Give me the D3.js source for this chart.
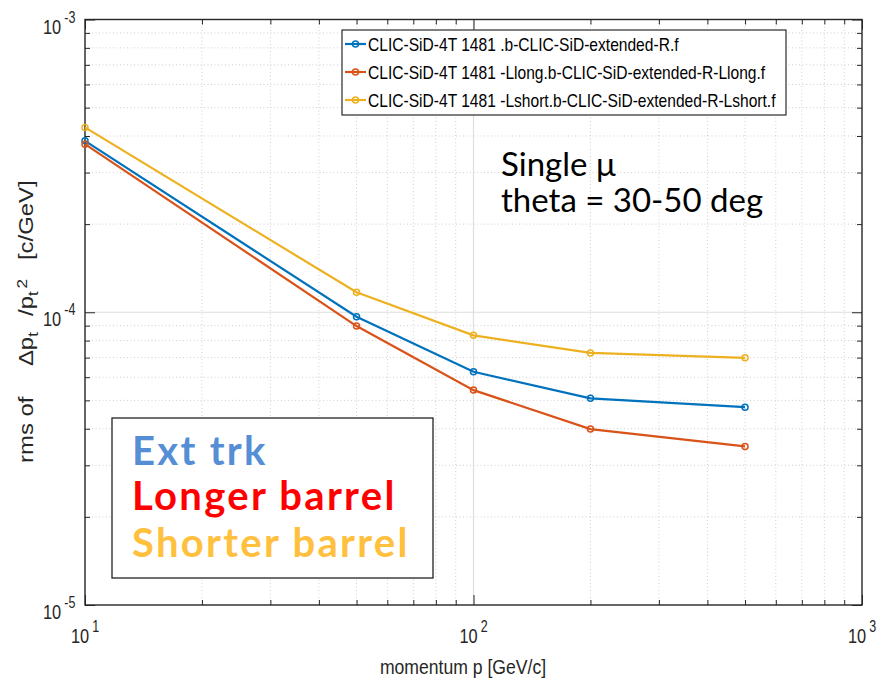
<!DOCTYPE html>
<html><head><meta charset="utf-8">
<script src="https://cdn.jsdelivr.net/npm/d3@7"></script>
<style>body{margin:0;background:#fff}svg{display:block}</style>
</head><body>
<svg id="chart" width="877" height="681"></svg>
<script>
// Momentum resolution vs. momentum for three SiD tracker variants
const momentum = [10, 50, 100, 200, 500];
const seriesNames = [
  "CLIC-SiD-4T 1481 .b-CLIC-SiD-extended-R.f",
  "CLIC-SiD-4T 1481 -Llong.b-CLIC-SiD-extended-R-Llong.f",
  "CLIC-SiD-4T 1481 -Lshort.b-CLIC-SiD-extended-R-Lshort.f"
];
const extendedR = [3.85e-4, 9.65e-5, 6.26e-5, 5.08e-5, 4.74e-5];
const longBarrel = [3.75e-4, 8.97e-5, 5.42e-5, 3.99e-5, 3.48e-5];
const shortBarrel = [4.28e-4, 1.17e-4, 8.34e-5, 7.26e-5, 6.99e-5];
const seriesColors = ["#0072BD", "#D95319", "#EDB120"];
const xDecades = [1, 2, 3];       // 10^1 .. 10^3
const yDecades = [-5, -4, -3];    // 10^-5 .. 10^-3
const noteLines = ["Single \u03bc", "theta = 30-50 deg"];
const boxLines = ["Ext trk", "Longer barrel", "Shorter barrel"];
const boxColors = ["#558ED5", "#FF0000", "#FFC03D"];

const series = [extendedR, longBarrel, shortBarrel].map((vals, i) => ({
  name: seriesNames[i], color: seriesColors[i],
  points: momentum.map((p, j) => ({p, v: vals[j]}))
}));

const svg = d3.select("#chart");
const L = 85, R = 862, T = 19.5, B = 605;
const x = d3.scaleLog().domain([10, 1000]).range([L, R]);
const y = d3.scaleLog().domain([1e-5, 1e-3]).range([B, T]);

const xMajor = xDecades.map(e => Math.pow(10, e));
const yMajor = yDecades.map(e => Math.pow(10, e));
const minorOf = (majors) => {
  const out = [];
  for (let i = 0; i < majors.length - 1; i++)
    for (let k = 2; k <= 9; k++) out.push(majors[i] * k);
  return out;
};
const xMinor = minorOf(xMajor), yMinor = minorOf(yMajor);

const font = "'Liberation Sans',Arial,Helvetica,sans-serif";
const axisColor = "#262626";

// horizontally condensed text, Helvetica-narrow look
function narrowText(parent, px, py, sx) {
  return parent.append("g").attr("transform", `translate(${px},${py}) scale(${sx},1)`)
    .append("text").attr("font-family", font).attr("fill", axisColor);
}

// grid
const grid = svg.append("g");
grid.selectAll(".gxm").data(xMinor).join("line")
  .attr("x1", d => x(d)).attr("x2", d => x(d)).attr("y1", T).attr("y2", B)
  .attr("stroke", "#cfcfcf").attr("stroke-dasharray", "1,2.5").attr("stroke-width", 1);
grid.selectAll(".gym").data(yMinor).join("line")
  .attr("y1", d => y(d)).attr("y2", d => y(d)).attr("x1", L).attr("x2", R)
  .attr("stroke", "#cfcfcf").attr("stroke-dasharray", "1,2.5").attr("stroke-width", 1);
grid.selectAll(".gxM").data(xMajor.slice(1, -1)).join("line")
  .attr("x1", d => x(d)).attr("x2", d => x(d)).attr("y1", T).attr("y2", B)
  .attr("stroke", "#dedede").attr("stroke-width", 1.2);
grid.selectAll(".gyM").data(yMajor.slice(1, -1)).join("line")
  .attr("y1", d => y(d)).attr("y2", d => y(d)).attr("x1", L).attr("x2", R)
  .attr("stroke", "#dedede").attr("stroke-width", 1.2);

// ticks on all four sides, pointing inward
function ticks(axisFn, scale, values, size, transform) {
  const g = svg.append("g").attr("transform", transform)
    .call(axisFn(scale).tickValues(values).tickSize(-size).tickFormat(""));
  g.select(".domain").remove();
  g.selectAll(".tick line").attr("stroke", axisColor).attr("stroke-width", 1);
}
ticks(d3.axisBottom, x, xMajor, 10, `translate(0,${B})`);
ticks(d3.axisBottom, x, xMinor, 5, `translate(0,${B})`);
ticks(d3.axisTop, x, xMajor, 10, `translate(0,${T})`);
ticks(d3.axisTop, x, xMinor, 5, `translate(0,${T})`);
ticks(d3.axisLeft, y, yMajor, 10, `translate(${L},0)`);
ticks(d3.axisLeft, y, yMinor, 5, `translate(${L},0)`);
ticks(d3.axisRight, y, yMajor, 10, `translate(${R},0)`);
ticks(d3.axisRight, y, yMinor, 5, `translate(${R},0)`);

svg.append("rect").attr("x", L).attr("y", T).attr("width", R - L).attr("height", B - T)
  .attr("fill", "none").attr("stroke", axisColor).attr("stroke-width", 1.4);

// tick labels 10^n
function powLabel(t, e) {
  t.attr("font-size", 21);
  t.append("tspan").text("10");
  t.append("tspan").attr("dy", -11).attr("dx", 4).attr("font-size", 16).text(e);
}
xDecades.forEach(e => powLabel(narrowText(svg, x(Math.pow(10, e)) - 14, 643, 0.78), e));
yDecades.forEach(e => powLabel(narrowText(svg, 43, y(Math.pow(10, e)) + 14, 0.78), e));

// x axis title
narrowText(svg, 463, 674, 0.88).attr("text-anchor", "middle").attr("font-size", 20)
  .text("momentum p [GeV/c]");

// y axis title, laid out along the rotated baseline (stretched along the text)
const yl = svg.append("g").attr("transform", "translate(33,463) rotate(-90) scale(1.14,1)")
  .append("text").attr("font-family", font).attr("fill", axisColor).attr("font-size", 21);
yl.append("tspan").attr("x", 0).text("rms of");
yl.append("tspan").attr("x", 85).text("\u0394p");
yl.append("tspan").attr("font-size", 15).attr("dy", 5).text("t");
yl.append("tspan").attr("x", 129).attr("dy", -5).text("/p");
yl.append("tspan").attr("font-size", 15).attr("dy", 5).text("t");
yl.append("tspan").attr("font-size", 15).attr("x", 153).attr("dy", -11).text("2");
yl.append("tspan").attr("x", 178).attr("dy", 6).text("[c/GeV]");

// data lines
const line = d3.line().x(d => x(d.p)).y(d => y(d.v));
const plot = svg.append("g");
series.forEach(s => {
  plot.append("path").attr("d", line(s.points)).attr("fill", "none")
    .attr("stroke", s.color).attr("stroke-width", 2.2);
  plot.selectAll(null).data(s.points).join("circle")
    .attr("cx", d => x(d.p)).attr("cy", d => y(d.v)).attr("r", 3)
    .attr("fill", "none").attr("stroke", s.color).attr("stroke-width", 1.5);
});

// legend
const lg = svg.append("g");
lg.append("rect").attr("x", 342).attr("y", 30).attr("width", 444).attr("height", 85)
  .attr("fill", "#fff").attr("stroke", "#000").attr("stroke-width", 1);
series.forEach((s, i) => {
  const cy = 44 + i * 28;
  lg.append("line").attr("x1", 345).attr("x2", 366).attr("y1", cy).attr("y2", cy)
    .attr("stroke", s.color).attr("stroke-width", 2.2);
  lg.append("circle").attr("cx", 355.5).attr("cy", cy).attr("r", 3)
    .attr("fill", "none").attr("stroke", s.color).attr("stroke-width", 1.5);
  narrowText(lg, 368, cy + 6.5, 0.866).attr("font-size", 18).attr("fill", "#000").text(s.name);
});

// annotation
const note = svg.append("text").attr("font-family", "Lato, 'Open Sans', sans-serif")
  .attr("font-size", 33).attr("fill", "#000");
noteLines.forEach((t, i) => {
  note.append("tspan").attr("x", 501).attr("y", 176 + i * 36).text(t);
});

// colour key box
svg.append("rect").attr("x", 112).attr("y", 418).attr("width", 321).attr("height", 160)
  .attr("fill", "#fff").attr("stroke", "#222").attr("stroke-width", 1.3);
boxLines.forEach((t, i) => {
  svg.append("text").attr("x", 132).attr("y", [465, 510, 557][i])
    .attr("font-family", "Lato, 'Open Sans', sans-serif").attr("font-weight", "bold")
    .attr("font-size", 40).attr("letter-spacing", 2.3).attr("fill", boxColors[i]).text(t);
});
</script>
</body></html>
